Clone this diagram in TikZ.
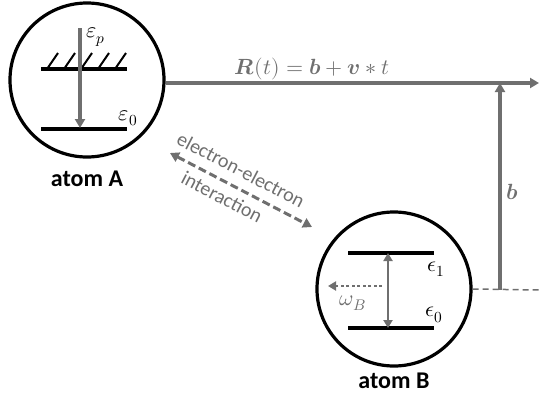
\documentclass[tikz,border=0pt]{standalone}
\usepackage{fontspec}
\usepackage{unicode-math}
\setmainfont{Carlito}
\setmathfont{Latin Modern Math}
\usetikzlibrary{arrows.meta,calc,positioning}
\definecolor{AtomGray}{HTML}{6F6F6F}
\tikzset{
  atom/.style={circle,draw=black,line width=3.2pt,minimum size=154pt,inner sep=0pt},
  atomname/.style={font=\bfseries\fontsize{24}{27}\selectfont,inner sep=1pt},
  level/.style={black,line width=3.2pt},
  grayarrow/.style={AtomGray,line width=3.2pt,-{Triangle[length=9pt,width=10pt]}},
  graylabel/.style={text=AtomGray,font=\fontsize{20}{24}\selectfont},
  mathlabel/.style={font=\fontsize{22}{26}\selectfont}
}
\begin{document}
\begin{tikzpicture}[x=1pt,y=-1pt]
        \useasboundingbox (0,0) rectangle (539,394);

        % atom A
        \node[atom] (atomA) at (87,80) {};
        \node[atomname] (nameA) at (87,179) {atom A};
        \draw[level] (41,69) -- (127,69);
        \foreach \hx in {47,64,81,98,115}
          \draw[black,line width=2pt] (\hx,69) -- ++(11,-16);
        \draw[level] (41,129) -- (127,129);
        \coordinate (epstop) at (80,28);
        \coordinate (epsbottom) at (80,128);
        \draw[grayarrow] (epstop) -- (epsbottom);
        \node[mathlabel] (epsp) at (96,37) {$\varepsilon_p$};
        \node[mathlabel] (epszero) at (128,118) {$\varepsilon_0$};

        % trajectory and impact parameter
        \coordinate (Rend) at (539,83);
        \draw[grayarrow] (atomA.east |- Rend) -- (Rend);
        \node[text=AtomGray,mathlabel] (Rlabel) at (312,69)
          {$\symbfit{R}(t)=\symbfit{b}+\symbfit{v}*t$};
        \coordinate (bfoot) at (500,290);
        \draw[grayarrow] (bfoot) -- (bfoot |- Rend);
        \node[text=AtomGray,mathlabel] (blabel) at (512,192) {$\symbfit{b}$};

        % atom B
        \node[atom] (atomB) at (394,289) {};
        \node[atomname] (nameB) at (394,381) {atom B};
        \draw[AtomGray,line width=1.5pt,dash pattern=on 6pt off 4pt]
          (atomB.east) -- (539,290);
        \draw[level] (348,253) -- (434,253);
        \draw[level] (348,328) -- (434,328);
        \coordinate (levelone) at (388,253);
        \coordinate (levelzero) at (388,328);
        \draw[AtomGray,line width=2.8pt,{Triangle[length=8pt,width=9pt]}-{Triangle[length=8pt,width=9pt]}]
          (levelone) -- (levelzero);
        \node[mathlabel] (epsone) at (436,269) {$\epsilon_1$};
        \node[mathlabel] (epsnull) at (434,315) {$\epsilon_0$};
        \coordinate (emitstart) at (382,286);
        \coordinate (emitend) at (328,286);
        \draw[AtomGray,line width=2.8pt,dash pattern=on 3pt off 2.5pt,-{Triangle[length=8pt,width=9pt]}]
          (emitstart) -- (emitend);
        \node[text=AtomGray,mathlabel] (omegaB) at (353,303) {$\omega_B$};

        % interaction
        \coordinate (eeA) at (170,153);
        \coordinate (eeB) at (312,227);
        \draw[AtomGray,line width=3pt,dash pattern=on 8pt off 4pt,
              {Triangle[length=9pt,width=10pt]}-{Triangle[length=9pt,width=10pt]}]
          (eeA) -- (eeB);
        \node[graylabel,rotate=-27.5] (eetext) at (241,170) {electron-electron};
        \node[graylabel,rotate=-27.5] (inttext) at (222,197) {interaction};
      \end{tikzpicture}
\end{document}
